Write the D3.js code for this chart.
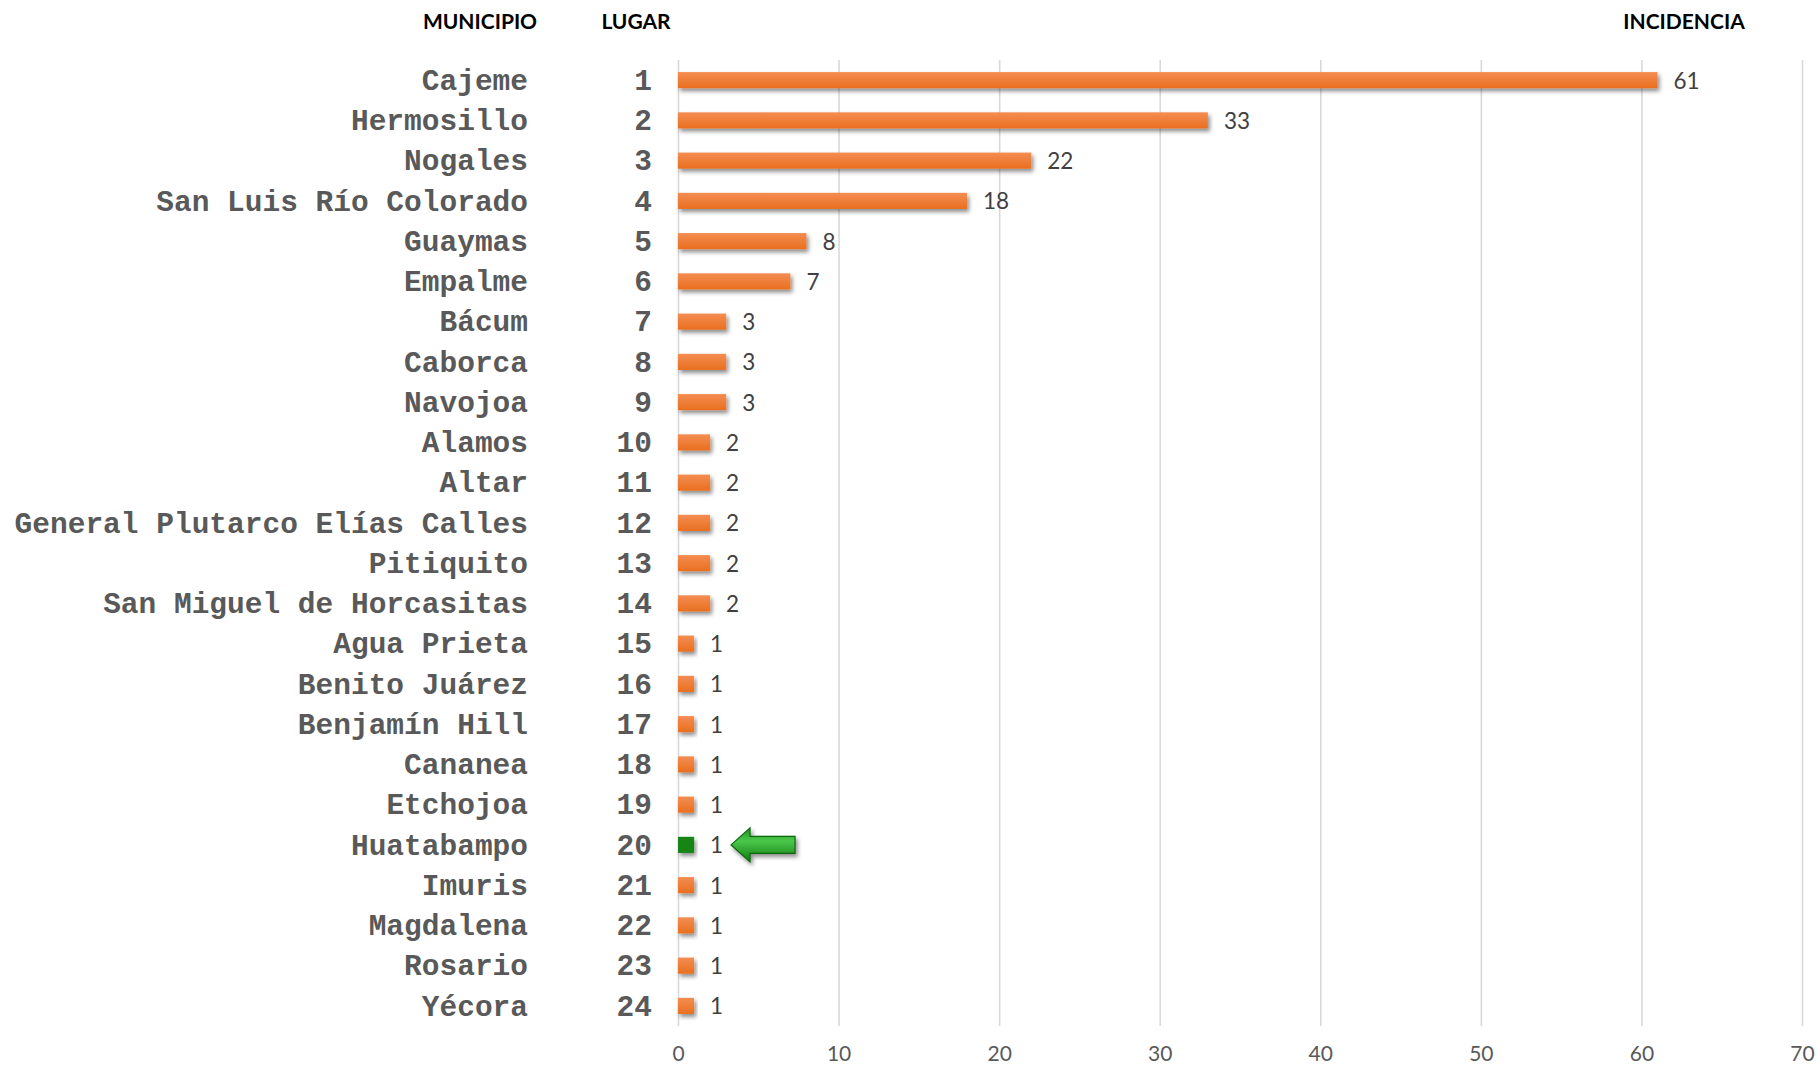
<!DOCTYPE html>
<html>
<head>
<meta charset="utf-8">
<script src="https://cdn.jsdelivr.net/npm/d3@7"></script>
<style>
  body { margin: 0; background: #ffffff; }
</style>
</head>
<body>
<svg id="chart" width="1820" height="1070"></svg>
<script>
const municipios = ['Cajeme', 'Hermosillo', 'Nogales', 'San Luis Río Colorado', 'Guaymas', 'Empalme',
  'Bácum', 'Caborca', 'Navojoa', 'Alamos', 'Altar', 'General Plutarco Elías Calles', 'Pitiquito',
  'San Miguel de Horcasitas', 'Agua Prieta', 'Benito Juárez', 'Benjamín Hill', 'Cananea', 'Etchojoa',
  'Huatabampo', 'Imuris', 'Magdalena', 'Rosario', 'Yécora']
const lugares = [1, 2, 3, 4, 5, 6, 7, 8, 9, 10, 11, 12, 13, 14, 15, 16, 17, 18, 19, 20, 21, 22, 23, 24]
const incidencia = [61, 33, 22, 18, 8, 7, 3, 3, 3, 2, 2, 2, 2, 2, 1, 1, 1, 1, 1, 1, 1, 1, 1, 1]
const xTicks = [0, 10, 20, 30, 40, 50, 60, 70]
const highlight = 'Huatabampo'

const svg = d3.select('#chart')
const green = '#178517'
const labelColor = '#595959'
const monoFont = "'Courier New', 'Liberation Mono', monospace"
const sansFont = "Lato, 'Open Sans', sans-serif"

const plotLeft = 678
const plotRight = 1802
const plotTop = 60
const plotBottom = 1026

const data = municipios.map((m, i) => ({ municipio: m, lugar: lugares[i], value: incidencia[i] }))

const xScale = d3.scaleLinear()
  .domain([0, 70])
  .range([plotLeft, plotRight])

const yScale = d3.scaleBand()
  .domain(municipios)
  .range([plotTop, plotBottom])
  .paddingInner(0.6)
  .paddingOuter(0.3)

// defs: gradients + shadow
const defs = svg.append('defs')
const gOrange = defs.append('linearGradient').attr('id', 'gOrange').attr('x1', 0).attr('y1', 0).attr('x2', 0).attr('y2', 1)
gOrange.append('stop').attr('offset', '0%').attr('stop-color', '#f48d52')
gOrange.append('stop').attr('offset', '100%').attr('stop-color', '#e96f1f')
const gArrow = defs.append('linearGradient').attr('id', 'gArrow').attr('x1', 0).attr('y1', 0).attr('x2', 0).attr('y2', 1)
gArrow.append('stop').attr('offset', '0%').attr('stop-color', '#1a8f1a')
gArrow.append('stop').attr('offset', '38%').attr('stop-color', '#4cc84c')
gArrow.append('stop').attr('offset', '100%').attr('stop-color', '#0f7a0f')
defs.append('filter').attr('id', 'shadow').attr('x', '-10%').attr('y', '-50%').attr('width', '130%').attr('height', '250%')
  .append('feDropShadow')
  .attr('dx', 2).attr('dy', 3).attr('stdDeviation', 2.2)
  .attr('flood-color', '#000').attr('flood-opacity', 0.45)

// vertical grid
const xAxis = d3.axisBottom(xScale)
  .tickValues(xTicks)
  .tickSize(-(plotBottom - plotTop))
  .tickPadding(20)

const xAxisG = svg.append('g')
  .attr('transform', `translate(0, ${plotBottom})`)
  .call(xAxis)
xAxisG.select('path.domain').remove()
xAxisG.selectAll('.tick line')
  .style('stroke', '#d9d9d9')
  .style('stroke-width', 1.6)
xAxisG.selectAll('.tick text')
  .style('font-family', sansFont)
  .style('font-size', '21px')
  .style('fill', labelColor)

// headers
const headers = [
  { text: 'MUNICIPIO', x: 480 },
  { text: 'LUGAR', x: 636 },
  { text: 'INCIDENCIA', x: 1684 }
]
svg.selectAll('text.header')
  .data(headers)
  .enter()
  .append('text')
  .attr('class', 'header')
  .attr('x', d => d.x)
  .attr('y', 29)
  .attr('text-anchor', 'middle')
  .style('font-family', sansFont)
  .style('font-weight', 700)
  .style('font-size', '21px')
  .style('fill', '#000')
  .text(d => d.text)

const rows = svg.selectAll('g.row')
  .data(data)
  .enter()
  .append('g')
  .attr('class', 'row')

// municipio names
rows.append('text')
  .attr('x', 528)
  .attr('y', d => yScale(d.municipio) + yScale.bandwidth() / 2)
  .attr('dy', '0.33em')
  .attr('text-anchor', 'end')
  .style('font-family', monoFont)
  .style('font-weight', 700)
  .style('font-size', '29.5px')
  .style('fill', labelColor)
  .text(d => d.municipio)

// lugar
rows.append('text')
  .attr('x', 652)
  .attr('y', d => yScale(d.municipio) + yScale.bandwidth() / 2)
  .attr('dy', '0.33em')
  .attr('text-anchor', 'end')
  .style('font-family', monoFont)
  .style('font-weight', 700)
  .style('font-size', '29.5px')
  .style('fill', labelColor)
  .text(d => d.lugar)

// bars
rows.append('rect')
  .attr('x', xScale(0))
  .attr('y', d => yScale(d.municipio))
  .attr('width', d => xScale(d.value) - xScale(0))
  .attr('height', yScale.bandwidth())
  .attr('fill', d => d.municipio === highlight ? green : 'url(#gOrange)')
  .attr('filter', 'url(#shadow)')

// value labels
rows.append('text')
  .attr('x', d => xScale(d.value) + 16)
  .attr('y', d => yScale(d.municipio) + yScale.bandwidth() / 2)
  .attr('dy', '0.38em')
  .style('font-family', sansFont)
  .style('font-size', '22.5px')
  .style('fill', '#404040')
  .text(d => d.value)

// arrow pointing at the highlighted row
const hl = data.find(d => d.municipio === highlight)
const cy = yScale(hl.municipio) + yScale.bandwidth() / 2
const tip = xScale(hl.value) + 37
const tail = tip + 64
const headLen = 19
const headH = 17
const shaftH = 8.5
const arrowPath = d3.path()
arrowPath.moveTo(tip, cy)
arrowPath.lineTo(tip + headLen, cy - headH)
arrowPath.lineTo(tip + headLen, cy - shaftH)
arrowPath.lineTo(tail, cy - shaftH)
arrowPath.lineTo(tail, cy + shaftH)
arrowPath.lineTo(tip + headLen, cy + shaftH)
arrowPath.lineTo(tip + headLen, cy + headH)
arrowPath.closePath()

svg.append('path')
  .attr('d', arrowPath.toString())
  .attr('fill', 'url(#gArrow)')
  .attr('stroke', '#0e660e')
  .attr('stroke-width', 1.2)
  .attr('filter', 'url(#shadow)')
</script>
</body>
</html>
